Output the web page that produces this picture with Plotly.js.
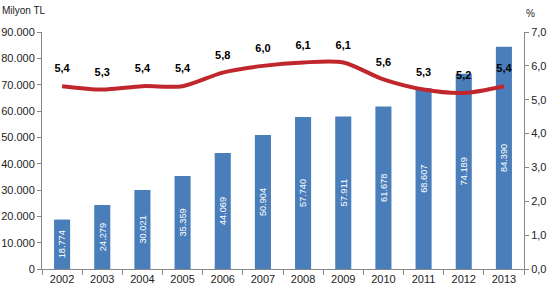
<!DOCTYPE html>
<html><head><meta charset="utf-8">
<script src="https://cdn.plot.ly/plotly-3.0.1.min.js"></script>
<style>body{margin:0;background:#fff}#c{width:549px;height:290px}</style>
</head><body><div id="c"></div>
<script>
var years = ["2002","2003","2004","2005","2006","2007","2008","2009","2010","2011","2012","2013"];
var amounts = [18774,24279,30021,35359,44069,50904,57740,57911,61678,68607,74189,84390];
var shares = [5.4,5.3,5.4,5.4,5.8,6.0,6.1,6.1,5.6,5.3,5.2,5.4];
var leftTitle = "Milyon TL";
var rightTitle = "%";

var font = "Liberation Sans, Arial, sans-serif";
var bars = {
  type: "bar", x: years, y: amounts, width: 0.4,
  marker: {color: "#4A7EBB"},
  texttemplate: "%{y:,.0f}", textposition: "inside", insidetextanchor: "middle",
  textangle: -90, textfont: {color: "#ffffff", size: 11, family: font},
  hoverinfo: "none", cliponaxis: false
};
var line = {
  type: "scatter", mode: "lines+markers+text", x: years, y: shares, yaxis: "y2",
  line: {color: "#C0272D", width: 4, shape: "spline", smoothing: 0.8},
  marker: {size: 16, color: "rgba(0,0,0,0)"},
  texttemplate: "%{y:.1f}", textposition: "top center",
  textfont: {color: "#000000", size: 11, family: font, weight: "bold"},
  hoverinfo: "none", cliponaxis: false
};
var layout = {
  width: 549, height: 290,
  margin: {l: 42, r: 25, t: 32, b: 21},
  separators: ",.",
  showlegend: false,
  paper_bgcolor: "#fff", plot_bgcolor: "#fff",
  font: {family: font, size: 11, color: "#333"},
  xaxis: {type: "category", showline: true, linecolor: "#868686", ticks: "outside",
    tickson: "boundaries", ticklen: 5, tickcolor: "#868686", showgrid: false,
    tickfont: {size: 11, color: "#222"}, range: [-0.5, 11.5]},
  yaxis: {range: [0, 90000], dtick: 10000, tickformat: ",.0f", showline: true,
    linecolor: "#868686", ticks: "outside", ticklen: 4, tickcolor: "#868686",
    showgrid: false, zeroline: false, tickfont: {size: 11, color: "#222"}},
  yaxis2: {range: [0, 7], dtick: 1, tickformat: ".1f", overlaying: "y", side: "right",
    showline: true, linecolor: "#868686", ticks: "outside", ticklen: 4, tickcolor: "#868686",
    showgrid: false, zeroline: false, tickfont: {size: 11, color: "#222"}},
  annotations: [
    {text: leftTitle, xref: "paper", yref: "paper", x: -42/482, y: 1 + 22/237,
     xanchor: "left", yanchor: "middle", showarrow: false, font: {size: 10, color: "#222"}},
    {text: rightTitle, xref: "paper", yref: "paper", x: 1 + 6/482, y: 1 + 19/237,
     xanchor: "center", yanchor: "middle", showarrow: false, font: {size: 10, color: "#222"}}
  ]
};
Plotly.newPlot("c", [bars, line], layout, {displayModeBar: false, staticPlot: true});
</script></body></html>
